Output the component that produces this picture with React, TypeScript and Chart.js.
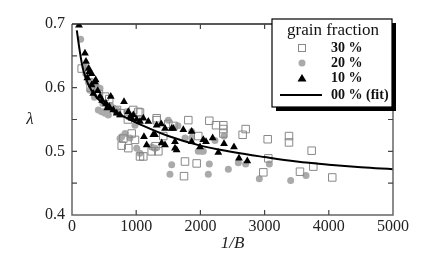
import React, { useEffect, useRef } from "react";
import { Chart, registerables } from "chart.js";

Chart.register(...registerables);

const X_TICKS = [0, 1000, 2000, 3000, 4000, 5000];
const Y_LABELED = [0.4, 0.5, 0.6, 0.7];

const series30: [number, number][] = [
  [151, 0.63], [230, 0.625], [290, 0.6], [350, 0.598], [420, 0.59], [514, 0.586], [580, 0.582],
  [700, 0.565], [760, 0.56], [955, 0.565], [1033, 0.562], [1059, 0.561], [870, 0.55], [774, 0.509],
  [800, 0.52], [877, 0.505], [930, 0.528], [981, 0.518], [1059, 0.492], [1111, 0.492], [1241, 0.5],
  [1345, 0.5], [1300, 0.508], [1319, 0.549], [1319, 0.552], [1422, 0.524], [1500, 0.543], [1580, 0.54],
  [1760, 0.484], [1745, 0.461], [1812, 0.549], [1942, 0.481], [1967, 0.524], [2139, 0.548],
  [2243, 0.541], [2357, 0.541], [2357, 0.535], [2357, 0.528], [2658, 0.526], [2705, 0.535],
  [2980, 0.467], [3048, 0.519], [3058, 0.489], [3380, 0.524], [3380, 0.514], [3551, 0.468],
  [3733, 0.501], [3759, 0.476], [4054, 0.459],
];

const series20: [number, number][] = [
  [135, 0.676], [202, 0.633], [230, 0.62], [254, 0.609], [280, 0.596], [300, 0.61], [330, 0.6],
  [384, 0.602], [436, 0.599], [350, 0.585], [410, 0.565], [462, 0.562], [514, 0.56], [566, 0.557],
  [540, 0.565], [480, 0.575], [600, 0.572], [644, 0.568], [700, 0.565], [852, 0.562], [774, 0.523],
  [748, 0.52], [826, 0.528], [903, 0.521], [981, 0.541], [1008, 0.505], [1059, 0.497], [1241, 0.507],
  [1293, 0.505], [1500, 0.549], [1526, 0.464], [1553, 0.479], [1650, 0.54], [1760, 0.521],
  [1864, 0.531], [1864, 0.521], [1967, 0.5], [2019, 0.5], [2123, 0.464], [2045, 0.5], [2139, 0.48],
  [2227, 0.517], [2368, 0.524], [2435, 0.472], [2591, 0.482], [2705, 0.48], [2918, 0.457],
  [3074, 0.48], [3406, 0.454], [3645, 0.462],
];

const series10: [number, number][] = [
  [109, 0.698], [202, 0.654], [218, 0.641], [239, 0.615], [260, 0.63], [270, 0.625], [306, 0.622],
  [306, 0.604], [358, 0.609], [369, 0.612], [332, 0.591], [400, 0.595], [436, 0.586], [470, 0.58],
  [603, 0.586], [530, 0.575], [550, 0.568], [580, 0.57], [644, 0.565], [696, 0.56], [810, 0.578],
  [748, 0.557], [877, 0.562], [903, 0.554], [930, 0.552], [955, 0.557], [1008, 0.55], [1059, 0.547],
  [1111, 0.552], [1189, 0.547], [1319, 0.541], [1390, 0.543], [1449, 0.536], [1121, 0.523],
  [1266, 0.526], [1293, 0.526], [1397, 0.513], [1163, 0.51], [1449, 0.51], [1553, 0.536],
  [1578, 0.536], [1604, 0.515], [1604, 0.505], [1630, 0.502], [1734, 0.534], [1864, 0.531],
  [1864, 0.515], [2045, 0.518], [1994, 0.507], [2087, 0.515], [2191, 0.521], [2279, 0.498],
  [2368, 0.512], [2523, 0.507], [2601, 0.489], [2731, 0.485],
];

const fitLine: [number, number][] = [
  [75, 0.69], [125, 0.655], [175, 0.628], [250, 0.606], [350, 0.589], [450, 0.578], [600, 0.566],
  [800, 0.555], [1000, 0.545], [1500, 0.524], [2000, 0.509], [2500, 0.499], [3000, 0.491],
  [3500, 0.484], [4000, 0.479], [4500, 0.475], [5000, 0.472],
];

const SERIF = "'Liberation Serif', 'DejaVu Serif', serif";

const toPts = (a: [number, number][]) => a.map(([x, y]) => ({ x, y }));

const decor = {
  id: "decor",
  afterDraw(chart: any) {
    const { ctx, chartArea: ca, scales } = chart;
    const xs = scales.x;
    const ys = scales.y;
    ctx.save();
    ctx.lineWidth = 1.5;
    ctx.strokeStyle = "#666";
    ctx.beginPath();
    ctx.moveTo(ca.left, ca.top);
    ctx.lineTo(ca.left, ca.bottom);
    ctx.lineTo(ca.right, ca.bottom);
    ctx.lineTo(ca.right, ca.top);
    ctx.stroke();
    ctx.strokeStyle = "#222";
    ctx.beginPath();
    ctx.moveTo(ca.left, ca.top);
    ctx.lineTo(ca.right, ca.top);
    ctx.stroke();
    ctx.lineWidth = 1.2;
    ctx.strokeStyle = "#444";
    ys.ticks.forEach((t: any) => {
      const py = ys.getPixelForValue(t.value);
      if (Math.abs(py - ca.top) < 1 || Math.abs(py - ca.bottom) < 1) return;
      ctx.beginPath();
      ctx.moveTo(ca.left, py);
      ctx.lineTo(ca.left + 5, py);
      ctx.moveTo(ca.right, py);
      ctx.lineTo(ca.right - 5, py);
      ctx.stroke();
    });
    xs.ticks.forEach((t: any) => {
      const px = xs.getPixelForValue(t.value);
      if (Math.abs(px - ca.left) < 1 || Math.abs(px - ca.right) < 1) return;
      ctx.beginPath();
      ctx.moveTo(px, ca.bottom);
      ctx.lineTo(px, ca.bottom - 5);
      ctx.moveTo(px, ca.top);
      ctx.lineTo(px, ca.top + 5);
      ctx.stroke();
    });
    ctx.fillStyle = "#222";
    ctx.font = `italic 17px ${SERIF}`;
    ctx.textAlign = "center";
    ctx.textBaseline = "middle";
    ctx.fillText("λ", 30, 120);
    ctx.fillText("1/B", (ca.left + ca.right) / 2, 244);

    const L = 272, T = 19, R = 392, B = 107;
    ctx.fillStyle = "#000";
    ctx.fillRect(L + 4, T + 4, R - L, B - T);
    ctx.fillStyle = "#fff";
    ctx.fillRect(L, T, R - L, B - T);
    ctx.lineWidth = 1.2;
    ctx.strokeStyle = "#000";
    ctx.strokeRect(L, T, R - L, B - T);
    ctx.fillStyle = "#111";
    ctx.font = `17px ${SERIF}`;
    ctx.textAlign = "center";
    ctx.fillText("grain fraction", 333, 31);
    ctx.font = `bold 14px ${SERIF}`;
    ctx.textAlign = "left";
    const rows = [
      { y: 48, label: "30 %" },
      { y: 63, label: "20 %" },
      { y: 78.5, label: "10 %" },
      { y: 95, label: "00 % (fit)" },
    ];
    rows.forEach((r) => ctx.fillText(r.label, 331, r.y));
    const sx = 302;
    ctx.strokeStyle = "#888";
    ctx.lineWidth = 1;
    ctx.strokeRect(sx - 3.5, 48 - 3.5, 7, 7);
    ctx.fillStyle = "#aaa";
    ctx.beginPath();
    ctx.arc(sx, 63, 3.5, 0, Math.PI * 2);
    ctx.fill();
    ctx.fillStyle = "#000";
    ctx.beginPath();
    ctx.moveTo(sx, 78.5 - 4.5);
    ctx.lineTo(sx + 4.5, 78.5 + 3);
    ctx.lineTo(sx - 4.5, 78.5 + 3);
    ctx.closePath();
    ctx.fill();
    ctx.strokeStyle = "#000";
    ctx.lineWidth = 2;
    ctx.beginPath();
    ctx.moveTo(280, 95);
    ctx.lineTo(322, 95);
    ctx.stroke();
    ctx.restore();
  },
};

export default function App() {
  const ref = useRef<HTMLCanvasElement | null>(null);
  useEffect(() => {
    if (!ref.current) return;
    const chart = new Chart(ref.current, {
      type: "scatter",
      data: {
        datasets: [
          {
            type: "line",
            label: "00 % (fit)",
            data: toPts(fitLine),
            borderColor: "#000",
            borderWidth: 2,
            pointRadius: 0,
            tension: 0.4,
            fill: false,
            order: 0,
          } as any,
          {
            label: "10 %",
            data: toPts(series10),
            pointStyle: "triangle",
            pointRadius: 4.5,
            backgroundColor: "#000",
            borderColor: "#000",
            borderWidth: 0,
            order: 1,
          },
          {
            label: "30 %",
            data: toPts(series30),
            pointStyle: "rect",
            pointRadius: 5.3,
            backgroundColor: "rgba(255,255,255,0)",
            borderColor: "#888",
            borderWidth: 1,
            order: 2,
          },
          {
            label: "20 %",
            data: toPts(series20),
            pointStyle: "circle",
            pointRadius: 3.5,
            backgroundColor: "#aaa",
            borderColor: "#aaa",
            borderWidth: 0,
            order: 3,
          },
        ],
      },
      options: {
        animation: false,
        responsive: false,
        maintainAspectRatio: false,
        layout: { padding: { top: 24, right: 36, left: 0, bottom: 0 } },
        plugins: { legend: { display: false }, tooltip: { enabled: false } },
        scales: {
          x: {
            type: "linear",
            min: 0,
            max: 5000,
            afterBuildTicks: (s: any) => {
              s.ticks = X_TICKS.map((v) => ({ value: v }));
            },
            ticks: {
              font: { family: SERIF, size: 16 },
              color: "#222",
              padding: 2,
              maxRotation: 0,
              callback: (v: any) => String(v),
            },
            grid: { display: false, drawTicks: false },
            border: { display: false },
            afterFit: (s: any) => {
              s.height = 47;
            },
          },
          y: {
            type: "linear",
            min: 0.4,
            max: 0.7,
            ticks: {
              stepSize: 0.05,
              font: { family: SERIF, size: 16 },
              color: "#222",
              padding: 7,
              callback: (v: any) => {
                const n = Number(v);
                const hit = Y_LABELED.find((t) => Math.abs(t - n) < 1e-6);
                return hit !== undefined ? hit.toFixed(1) : "";
              },
            },
            grid: { display: false, drawTicks: false },
            border: { display: false },
            afterFit: (s: any) => {
              s.width = 72;
            },
          },
        },
      },
      plugins: [decor],
    });
    return () => chart.destroy();
  }, []);
  return (
    <div style={{ position: "fixed", left: 0, top: 0, width: 429, height: 262, background: "#fff" }}>
      <canvas ref={ref} width={429} height={262} style={{ width: 429, height: 262 }} />
    </div>
  );
}
